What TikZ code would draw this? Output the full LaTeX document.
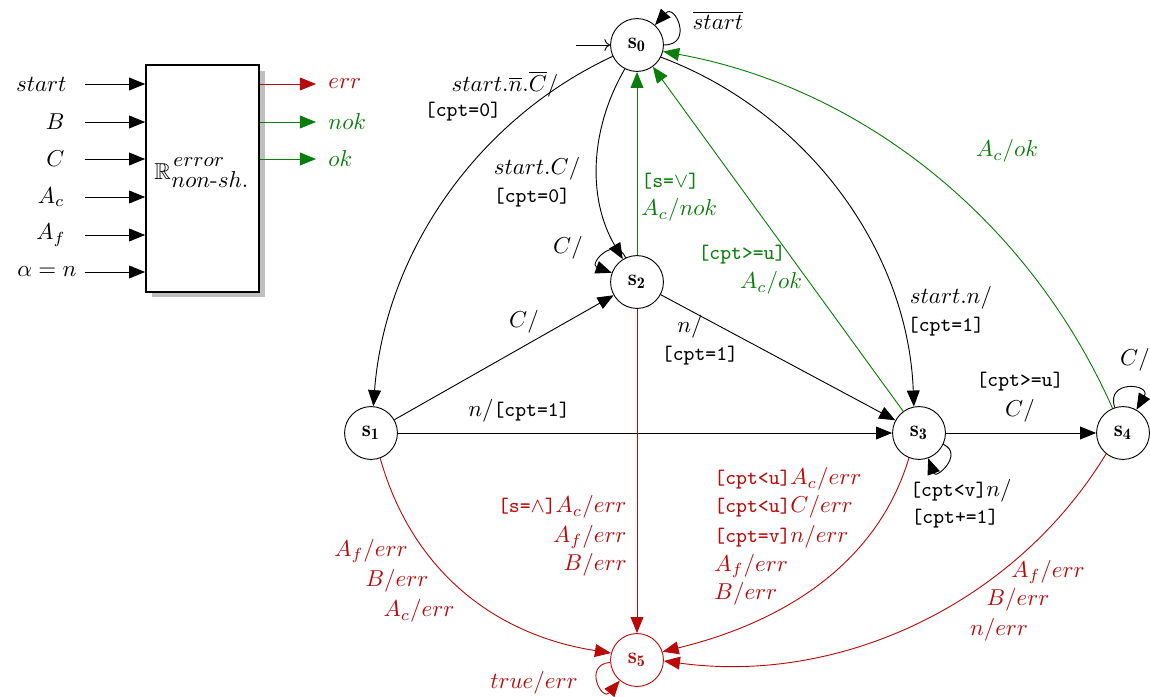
\documentclass[tikz,border=0pt]{standalone}
\usepackage{amsmath,amssymb}
\usepackage{fontspec}
\usetikzlibrary{arrows.meta,shadows}
\definecolor{myred}{RGB}{185,10,10}
\definecolor{mygreen}{RGB}{10,125,10}
\newcommand\grd[1]{{\small\ttfamily #1}}
\begin{document}
\begin{tikzpicture}[x=0.435pt,y=0.435pt,
  state/.style={circle,draw,minimum size=23pt,inner sep=0pt},
  arr/.style={-{Triangle[length=7pt,width=5.6pt]}},
  lbl/.style={inner sep=0pt},
  errs/.style={draw=myred,text=myred},
  redl/.style={lbl,text=myred},
  grnl/.style={lbl,text=mygreen}]
\useasboundingbox (0,0) rectangle (1150,-697);

% ---------- block ----------
\node[draw,line width=0.9pt,fill=white,minimum width=49pt,minimum height=98.7pt,inner sep=0pt,
  drop shadow={shadow xshift=2.6pt,shadow yshift=-2.4pt,fill=black!25,opacity=1}]
  (blk) at (202.5,-178.5) {};
\node[lbl,anchor=base west] (blkR) at (154,-180) {$\mathbb{R}$};
\node[lbl,anchor=base west,font=\small] (blkE) at (173,-167) {$error$};
\node[lbl,anchor=base west] (blkN) at (171,-188) {$non$\text{-}$sh.$};

\coordinate (i1) at (85,-84);
\coordinate (i2) at (85,-122);
\coordinate (i3) at (85,-159);
\coordinate (i4) at (85,-197);
\coordinate (i5) at (85,-235);
\coordinate (i6) at (85,-272);
\foreach \c in {i1,i2,i3,i4,i5,i6}{\draw[arr] (\c) -- (\c -| blk.west);}
\node[lbl,anchor=east] (li1) at (67,-84) {$start$};
\node[lbl,anchor=east] (li2) at (65,-122) {$B$};
\node[lbl,anchor=east] (li3) at (65,-159) {$C$};
\node[lbl,anchor=east] (li4) at (65,-197) {$A_c$};
\node[lbl,anchor=east] (li5) at (66,-235) {$A_f$};
\node[lbl,anchor=east] (li6) at (77,-272) {$\alpha = n$};

\coordinate (o1) at (316,-84);
\coordinate (o2) at (316,-122);
\coordinate (o3) at (316,-159);
\draw[arr,myred] (o1 -| blk.east) -- (o1);
\draw[arr,mygreen] (o2 -| blk.east) -- (o2);
\draw[arr,mygreen] (o3 -| blk.east) -- (o3);
\node[redl,anchor=west] (lo1) at (328,-84) {$err$};
\node[grnl,anchor=west] (lo2) at (328,-122) {$nok$};
\node[grnl,anchor=west] (lo3) at (328,-159) {$ok$};

% ---------- states ----------
\node[state] (s0) at (637,-45) {$\mathbf{s_0}$};
\node[state] (s1) at (371,-433) {$\mathbf{s_1}$};
\node[state] (s2) at (637,-282) {$\mathbf{s_2}$};
\node[state] (s3) at (919,-433) {$\mathbf{s_3}$};
\node[state] (s4) at (1123,-433) {$\mathbf{s_4}$};
\node[state,errs] (s5) at (637,-660) {$\mathbf{s_5}$};

\coordinate (init) at (576,-45);
\draw[->] (init) -- (s0);

% ---------- transitions ----------
\draw[arr] (s0.205) .. controls (476,-120) and (385,-254) .. (s1.85);
\draw[arr] (s0.243) .. controls (590,-129) and (587,-198) .. (s2.122);
\draw[arr] (s0.-27) .. controls (807,-112) and (908,-250) .. (s3.101);
\draw[arr,mygreen] (s2) -- (s0);
\draw[arr,mygreen] (s3) -- (s0);
\draw[arr,mygreen] (s4.113) .. controls (1030,-222) and (864,-88) .. (s0.-14);
\draw[arr] (s1) -- (s2);
\draw[arr] (s2) -- (s3);
\draw[arr] (s1) -- (s3);
\draw[arr] (s3) -- (s4);
\draw[arr,myred] (s2) -- (s5);
\draw[arr,myred] (s1.-70) .. controls (412,-571) and (495,-635) .. (s5.165);
\draw[arr,myred] (s3.248) .. controls (876,-568) and (777,-624) .. (s5.18);
\draw[arr,myred] (s4.231) .. controls (1014,-605) and (839,-685) .. (s5.-2);

% loops
\draw[arr] (s0) to[out=0,in=48,looseness=1,min distance=13pt] (s0);
\draw[arr] (s2) to[out=115,in=160,looseness=1,min distance=11pt] (s2);
\draw[arr] (s3) to[out=-25,in=-70,looseness=1,min distance=10pt] (s3);
\draw[arr] (s4) to[out=108,in=60,looseness=1,min distance=13pt] (s4);
\draw[arr,myred] (s5) to[out=185,in=230,looseness=1,min distance=12pt] (s5);

% ---------- labels ----------
\node[lbl] (l00) at (718,-20) {$\overline{start}$};
\node[lbl] (l01a) at (505,-84) {$start.\overline{n}.\overline{C}/$};
\node[lbl] (l01b) at (463,-112) {\grd{[cpt=0]}};
\node[lbl] (l02a) at (537,-169) {$start.C/$};
\node[lbl] (l02b) at (532,-198) {\grd{[cpt=0]}};
\node[grnl,anchor=west] (l20a) at (641,-181) {\grd{[s=$\vee$]}};
\node[grnl,anchor=west] (l20b) at (641,-210) {$A_c/nok$};
\node[lbl] (l22) at (568,-248) {$C/$};
\node[grnl] (l30a) at (742,-255) {\grd{[cpt>=u]}};
\node[grnl] (l30b) at (771,-283) {$A_c/ok$};
\node[lbl] (l12) at (524,-322) {$C/$};
\node[lbl] (l23a) at (690,-327) {$n/$};
\node[lbl] (l23b) at (700,-356) {\grd{[cpt=1]}};
\node[lbl] (l03a) at (951,-298) {$start.n/$};
\node[lbl] (l03b) at (946,-327) {\grd{[cpt=1]}};
\node[grnl] (l40) at (1007,-151) {$A_c/ok$};
\node[lbl] (l13) at (519,-411) {$n/$\grd{[cpt=1]}};
\node[lbl] (l34a) at (1020,-382) {\grd{[cpt>=u]}};
\node[lbl] (l34b) at (1020,-411) {$C/$};
\node[lbl] (l44) at (1135,-360) {$C/$};
\node[lbl] (l33a) at (961,-491) {\grd{[cpt<v]}$n/$};
\node[lbl] (l33b) at (955,-519) {\grd{[cpt+=1]}};

\node[redl,anchor=west] (l35a) at (714,-479) {\grd{[cpt<u]}$A_c/err$};
\node[redl,anchor=west] (l35b) at (714,-507) {\grd{[cpt<u]}$C/err$};
\node[redl,anchor=west] (l35c) at (714,-537) {\grd{[cpt=v]}$n/err$};
\node[redl,anchor=west] (l35d) at (714,-566) {$A_f/err$};
\node[redl,anchor=west] (l35e) at (714,-594) {$B/err$};

\node[redl,anchor=east] (l25a) at (627,-507) {\grd{[s=$\wedge$]}$A_c/err$};
\node[redl,anchor=east] (l25b) at (627,-537) {$A_f/err$};
\node[redl,anchor=east] (l25c) at (627,-565) {$B/err$};

\node[redl] (l15a) at (371,-551) {$A_f/err$};
\node[redl] (l15b) at (397,-581) {$B/err$};
\node[redl] (l15c) at (419,-611) {$A_c/err$};

\node[redl] (l55) at (534,-683) {$true/err$};

\node[redl] (l45a) at (1048,-572) {$A_f/err$};
\node[redl] (l45b) at (1018,-600) {$B/err$};
\node[redl] (l45c) at (999,-630) {$n/err$};
\end{tikzpicture}
\end{document}
